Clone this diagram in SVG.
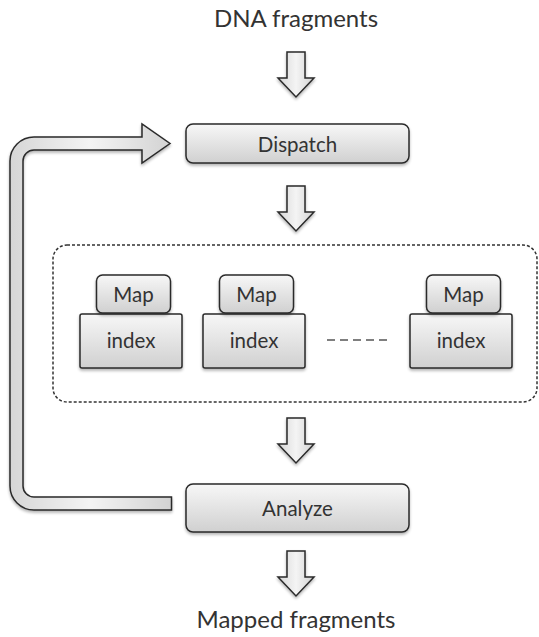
<svg xmlns="http://www.w3.org/2000/svg" width="539" height="637" viewBox="0 0 539 637">
<defs>
<linearGradient id="gBox" x1="0" y1="0" x2="0" y2="1">
<stop offset="0" stop-color="#f7f7f7"/>
<stop offset="1" stop-color="#d0d0d0"/>
</linearGradient>
<linearGradient id="gArrow" x1="0" y1="0" x2="1" y2="0">
<stop offset="0" stop-color="#d6d6d6"/>
<stop offset="0.5" stop-color="#f4f4f4"/>
<stop offset="1" stop-color="#d2d2d2"/>
</linearGradient>
<filter id="sh" x="-10%" y="-10%" width="120%" height="130%">
<feGaussianBlur in="SourceAlpha" stdDeviation="1.5"/>
<feOffset dx="0" dy="2" result="b"/>
<feComponentTransfer><feFuncA type="linear" slope="0.3"/></feComponentTransfer>
<feMerge><feMergeNode/><feMergeNode in="SourceGraphic"/></feMerge>
</filter>
<path id="down" d="M-9,0 H9 V26 H18 L0,45 L-18,26 H-9 Z"/>
</defs>
<style>
.box{fill:url(#gBox);stroke:#2a2a2a;stroke-width:1.5;filter:url(#sh)}
.arr{fill:url(#gArrow);stroke:#2a2a2a;stroke-width:1.5;stroke-linejoin:miter;filter:url(#sh)}
.t{font-family:Lato,"Open Sans","Liberation Sans",sans-serif;fill:#333;text-anchor:middle}
.big{font-size:24px}
.mid{font-size:20.5px}
.sm{font-size:20.5px}
</style>
<g id="label-dna"><text class="t big" x="296" y="27">DNA fragments</text></g>
<g id="dispatch">
<rect class="box" x="186" y="124" width="223" height="39" rx="7"/>
<text class="t mid" x="297.5" y="152">Dispatch</text>
</g>
<g id="map-container">
<rect x="53" y="245" width="484" height="157" rx="14" fill="none" stroke="#333" stroke-width="1.5" stroke-dasharray="3 2"/>
</g>
<g id="worker1">
<rect class="box" x="80" y="314" width="102" height="54" rx="2"/>
<rect class="box" x="96.5" y="275" width="74" height="38" rx="6"/>
<text class="t sm" x="133.5" y="302">Map</text>
<text class="t sm" x="131" y="348">index</text>
</g>
<g id="worker2">
<rect class="box" x="203" y="314" width="102" height="54" rx="2"/>
<rect class="box" x="219.5" y="275" width="74" height="38" rx="6"/>
<text class="t sm" x="256.5" y="302">Map</text>
<text class="t sm" x="254" y="348">index</text>
</g>
<g id="ellipsis"><line x1="327" y1="340" x2="387" y2="340" stroke="#555" stroke-width="1.5" stroke-dasharray="8 5"/></g>
<g id="worker3">
<rect class="box" x="410" y="314" width="102" height="54" rx="2"/>
<rect class="box" x="426.5" y="275" width="74" height="38" rx="6"/>
<text class="t sm" x="463.5" y="302">Map</text>
<text class="t sm" x="461" y="348">index</text>
</g>
<g id="analyze">
<rect class="box" x="186" y="484" width="223" height="48" rx="7"/>
<text class="t mid" x="297.5" y="516">Analyze</text>
</g>
<g id="label-mapped"><text class="t big" x="296" y="628">Mapped fragments</text></g>
<g id="connectors">
<use href="#down" class="arr" transform="translate(296,52)"/>
<use href="#down" class="arr" transform="translate(296,186)"/>
<use href="#down" class="arr" transform="translate(296,418)"/>
<use href="#down" class="arr" transform="translate(296,551)"/>
<path class="arr" d="M171.5,510 H34 A24,24 0 0 1 10,486 V161 A24,24 0 0 1 34,137 H142 V124 L170,143.5 L142,163 V150 H34 A11,11 0 0 0 23,161 V486 A11,11 0 0 0 34,497 H171.5 Z"/>
</g>
</svg>
